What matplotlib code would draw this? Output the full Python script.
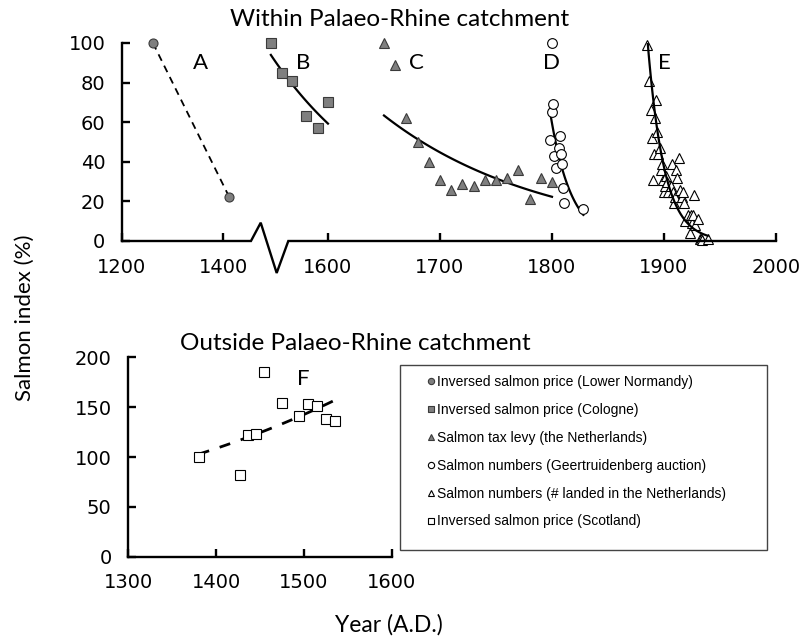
import numpy as np
import matplotlib
matplotlib.use("Agg")
import matplotlib.pyplot as plt
from matplotlib.lines import Line2D
from matplotlib.patches import Rectangle

plt.rcParams["font.family"] = ["DejaVu Sans"]

# ---- data ----
years_A = [1261, 1412]
salmon_A = [100, 22]

years_B = [1549, 1559, 1568, 1580, 1591, 1600]
salmon_B = [100, 85, 81, 63, 57, 70]

years_C = [1650, 1660, 1670, 1680, 1690, 1700, 1710, 1720, 1730, 1740, 1750, 1760, 1770, 1780, 1790, 1800]
salmon_C = [100, 89, 62, 50, 40, 31, 26, 29, 28, 31, 31, 32, 36, 21, 32, 30]

years_D = [1798, 1800, 1800, 1801, 1802, 1804, 1806, 1807, 1808, 1809, 1810, 1811, 1828]
salmon_D = [51, 100, 65, 69, 43, 37, 47, 53, 44, 39, 27, 19, 16]

years_E = [1885, 1887, 1888, 1889, 1890, 1891, 1892, 1893, 1894, 1895, 1896, 1897, 1898, 1899,
           1900, 1901, 1902, 1903, 1904, 1906, 1907, 1908, 1909, 1910, 1911, 1912, 1913, 1914,
           1916, 1917, 1918, 1919, 1921, 1923, 1924, 1925, 1926, 1927, 1928, 1930, 1932, 1933,
           1934, 1939]
salmon_E = [99, 81, 66, 52, 31, 44, 62, 71, 55, 44, 47, 36, 39, 31,
            25, 28, 33, 30, 25, 28, 39, 25, 19, 22, 36, 32, 42, 26,
            22, 25, 19, 10, 13, 4, 13, 9, 13, 23, 8, 11, 1.0, 1.0,
            0.5, 1.0]

years_F = [1380, 1427, 1436, 1445, 1455, 1475, 1494, 1505, 1515, 1525, 1535]
salmon_F = [100, 82, 122, 123, 185, 154, 141, 153, 151, 138, 136]

labels = ["Inversed salmon price (Lower Normandy)",
          "Inversed salmon price (Cologne)",
          "Salmon tax levy (the Netherlands)",
          "Salmon numbers (Geertruidenberg auction)",
          "Salmon numbers (# landed in the Netherlands)",
          "Inversed salmon price (Scotland)"]

W, H = 803, 644
TITLE_FONT = "Lato"
grey = "#7f7f7f"
edge = "#3a3a3a"


def exp_trend(years, vals):
    # exponential trend line (like Excel) fitted over the data range
    b, a = np.polyfit(years, np.log(vals), 1)
    t = np.linspace(min(years), max(years), 120)
    return t, np.exp(a + b * t)


# broken time axis: 1200-1450 compressed, 1531-2000 normal
brk_t = [1100, 1450, 1531, 2100]
brk_u = [-50.67, 126.7, 128.7, 766.0]


def fwd(t):
    return np.interp(t, brk_t, brk_u)


def inv(u):
    return np.interp(u, brk_u, brk_t)


def px_axes(x0, y0, x1, y1):
    return fig.add_axes([x0 / W, 1 - y1 / H, (x1 - x0) / W, (y1 - y0) / H])


def style_axis(ax):
    for s in ["top", "right"]:
        ax.spines[s].set_visible(False)
    for s in ["left", "bottom"]:
        ax.spines[s].set_linewidth(1.7)
    ax.tick_params(direction="in", length=5.5, width=1.7, labelsize=14)
    ax.tick_params(axis="y", pad=12)
    ax.tick_params(axis="x", pad=12)


fig = plt.figure(figsize=(W / 100, H / 100), dpi=100)

# ---- top panel ----
ax = px_axes(122, 43, 776, 241)
ax.set_xscale("function", functions=(fwd, inv))
ax.set_xlim(1200, 2000)
ax.set_ylim(0, 100)
ax.set_xticks([1200, 1400, 1600, 1700, 1800, 1900, 2000])
ax.set_yticks(range(0, 101, 20))
style_axis(ax)
ax.spines["bottom"].set_visible(False)
ax.plot([0, 0.1972, 0.2121, 0.2365, 0.2543, 1.0], [0, 0, 0.0924, -0.1616, 0, 0],
        transform=ax.transAxes, color="k", lw=1.7, clip_on=False,
        solid_joinstyle="miter", zorder=5)

hA, = ax.plot(years_A, salmon_A, ls=(0, (4, 3)), color="k", lw=1.3, marker="o", ms=6.5,
              mfc=grey, mec=edge, mew=0.8, clip_on=False, zorder=3)
ax.plot(*exp_trend(years_B, salmon_B), color="k", lw=1.6)
hB, = ax.plot(years_B, salmon_B, ls="none", marker="s", ms=6.5, mfc=grey, mec=edge,
              mew=0.8, clip_on=False, zorder=3)
ax.plot(*exp_trend(years_C, salmon_C), color="k", lw=1.6)
hC, = ax.plot(years_C, salmon_C, ls="none", marker="^", ms=7, mfc=grey, mec=edge,
              mew=0.8, clip_on=False, zorder=3)
ax.plot(*exp_trend(years_D, salmon_D), color="k", lw=1.6)
hD, = ax.plot(years_D, salmon_D, ls="none", marker="o", ms=7, mfc="white", mec="k",
              mew=0.8, clip_on=False, zorder=3)
hE, = ax.plot(years_E, salmon_E, ls="none", marker="^", ms=6.5, mfc="white", mec="k",
              mew=0.8, clip_on=False, zorder=3)
ax.plot(*exp_trend(years_E, salmon_E), color="k", lw=1.6, zorder=4)

for letter, t in zip("ABCDE", [1354, 1578, 1679, 1800, 1900]):
    ax.text(t, 90, letter, ha="center", va="center", fontsize=16, family=TITLE_FONT)

fig.text(400 / W, 1 - 20 / H, "Within Palaeo-Rhine catchment", ha="center", va="center",
         fontsize=17.5, family=TITLE_FONT)

# ---- bottom panel ----
ax2 = px_axes(128.3, 357.3, 391.7, 556.7)
ax2.set_xlim(1300, 1600)
ax2.set_ylim(0, 200)
ax2.set_xticks([1300, 1400, 1500, 1600])
ax2.set_yticks(range(0, 201, 50))
style_axis(ax2)
b, a = np.polyfit(years_F, np.log(salmon_F), 1)
tF = np.linspace(min(years_F), max(years_F), 50)
ax2.plot(tF, np.exp(a + b * tF), color="k", lw=2, ls=(0, (4, 4)))
hF, = ax2.plot(years_F, salmon_F, ls="none", marker="s", ms=7, mfc="white", mec="k",
               mew=0.8, clip_on=False, zorder=3)
ax2.text(1499, 178, "F", ha="center", va="center", fontsize=16, family=TITLE_FONT)

fig.text(180 / W, 1 - 343 / H, "Outside Palaeo-Rhine catchment", ha="left", va="center",
         fontsize=17.5, family=TITLE_FONT)

# ---- shared labels ----
fig.text(25 / W, 1 - 318 / H, "Salmon index (%)", rotation=90, ha="center", va="center",
         fontsize=16, family=TITLE_FONT)
fig.text(389 / W, 1 - 625 / H, "Year (A.D.)", ha="center", va="center",
         fontsize=16.5, family=TITLE_FONT)

# ---- legend ----
fig.patches.append(Rectangle((400 / W, 1 - 550 / H), 367 / W, 185 / H,
                             transform=fig.transFigure, fill=False, ec="#444444", lw=1))
leg_handles = []
for h in [hA, hB, hC, hD, hE, hF]:
    leg_handles.append(Line2D([], [], ls="none", marker=h.get_marker(), ms=4.5,
                              mfc=h.get_markerfacecolor(), mec=h.get_markeredgecolor(), mew=0.8))
fig.legend(leg_handles, labels, loc="upper left", bbox_to_anchor=(425 / W, 1 - 375 / H),
           frameon=False, prop={"family": "Liberation Sans", "size": 10},
           handlelength=0.8, handletextpad=0.1, labelspacing=1.0, borderpad=0, borderaxespad=0)

fig.savefig("out.png", dpi=100)
